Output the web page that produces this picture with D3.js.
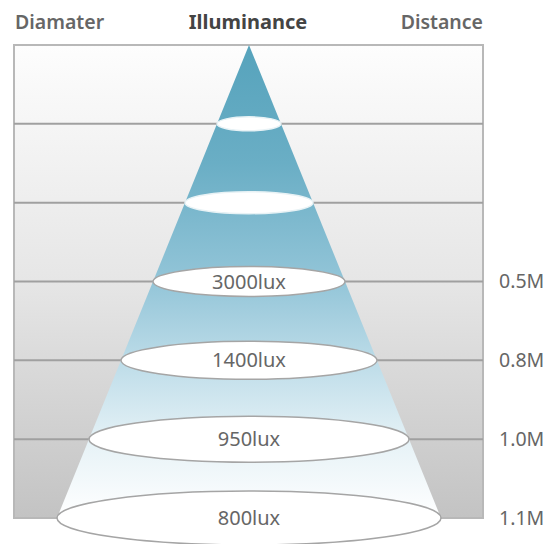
<!DOCTYPE html>
<html><head><meta charset="utf-8">
<script src="https://cdn.jsdelivr.net/npm/d3@7"></script>
<style>html,body{margin:0;padding:0;background:#fff}svg{display:block}</style>
</head><body>
<script>
// Data
const levels = [1, 2, 3, 4, 5, 6];
const luxLabels = ["", "", "3000lux", "1400lux", "950lux", "800lux"];
const distanceLabels = ["", "", "0.5M", "0.8M", "1.0M", "1.1M"];
const headers = ["Diamater", "Illuminance", "Distance"];

const W = 556, H = 544;
const svg = d3.select("body").append("svg").attr("width", W).attr("height", H);
const font = "'Noto Sans', 'Open Sans', sans-serif";

const box = {x0: 14, x1: 483, y0: 45, y1: 518};
const cx = 249;
const y = d3.scaleLinear().domain([0, 6]).range([box.y0, box.y1]);
const halfW = d3.scaleLinear().domain([0, 6]).range([0, 192]);
const ry = d3.scaleLinear().domain([1, 6]).range([7, 27]);

const defs = svg.append("defs");
const bg = defs.append("linearGradient").attr("id", "bg").attr("x1", 0).attr("y1", 0).attr("x2", 0).attr("y2", 1);
bg.append("stop").attr("offset", "0%").attr("stop-color", "#fdfdfd");
bg.append("stop").attr("offset", "50%").attr("stop-color", "#e6e6e6");
bg.append("stop").attr("offset", "100%").attr("stop-color", "#c3c3c3");

const cg = defs.append("linearGradient").attr("id", "cone").attr("gradientUnits", "userSpaceOnUse")
  .attr("x1", 0).attr("y1", box.y0).attr("x2", 0).attr("y2", box.y1);
cg.append("stop").attr("offset", "0%").attr("stop-color", "#56a3bc");
cg.append("stop").attr("offset", "25%").attr("stop-color", "#6aaec5");
cg.append("stop").attr("offset", "50%").attr("stop-color", "#93c5d8");
cg.append("stop").attr("offset", "70%").attr("stop-color", "#c4e0eb");
cg.append("stop").attr("offset", "85%").attr("stop-color", "#e8f3f7");
cg.append("stop").attr("offset", "100%").attr("stop-color", "#ffffff");

// background box
svg.append("rect").attr("x", box.x0).attr("y", box.y0)
  .attr("width", box.x1 - box.x0).attr("height", box.y1 - box.y0)
  .attr("fill", "url(#bg)").attr("stroke", "#b8b8b8").attr("stroke-width", 2);

// band lines
svg.selectAll("line.band").data(levels.slice(0, 5)).enter().append("line")
  .attr("x1", box.x0).attr("x2", box.x1)
  .attr("y1", d => y(d)).attr("y2", d => y(d))
  .attr("stroke", "#a0a0a0").attr("stroke-width", 2);

// cone
const last = levels[levels.length - 1];
svg.append("path")
  .attr("d", d3.line()([[cx, y(0)], [cx + halfW(last), y(last)], [cx - halfW(last), y(last)]]) + "Z")
  .attr("fill", "url(#cone)");

// ellipses
svg.selectAll("ellipse.e").data(levels).enter().append("ellipse")
  .attr("cx", cx).attr("cy", d => y(d))
  .attr("rx", d => halfW(d)).attr("ry", d => ry(d))
  .attr("fill", "#fff")
  .attr("stroke", (d, i) => i < 2 ? "#e8f2f5" : "#a5a5a5")
  .attr("stroke-width", 1.5);

// lux labels
svg.selectAll("text.lux").data(levels).enter().append("text")
  .attr("x", cx).attr("y", d => y(d)).attr("dy", "0.35em")
  .attr("text-anchor", "middle").attr("font-family", font)
  .attr("font-size", 20).attr("fill", "#666")
  .text((d, i) => luxLabels[i]);

// distance labels
svg.selectAll("text.dist").data(levels).enter().append("text")
  .attr("x", 499).attr("y", d => y(d)).attr("dy", "0.35em")
  .attr("text-anchor", "start").attr("font-family", font)
  .attr("font-size", 19.5).attr("fill", "#666")
  .text((d, i) => distanceLabels[i]);

// headers
const hx = [box.x0 + 1, cx - 1, box.x1];
const ha = ["start", "middle", "end"];
svg.selectAll("text.h").data(headers).enter().append("text")
  .attr("x", (d, i) => hx[i]).attr("y", 29)
  .attr("text-anchor", (d, i) => ha[i]).attr("font-family", font)
  .attr("font-size", (d, i) => i === 1 ? 20 : 19.5).attr("font-weight", (d, i) => i === 1 ? 700 : 600)
  .attr("fill", (d, i) => i === 1 ? "#444" : "#666")
  .text(d => d);
</script>
</body></html>
